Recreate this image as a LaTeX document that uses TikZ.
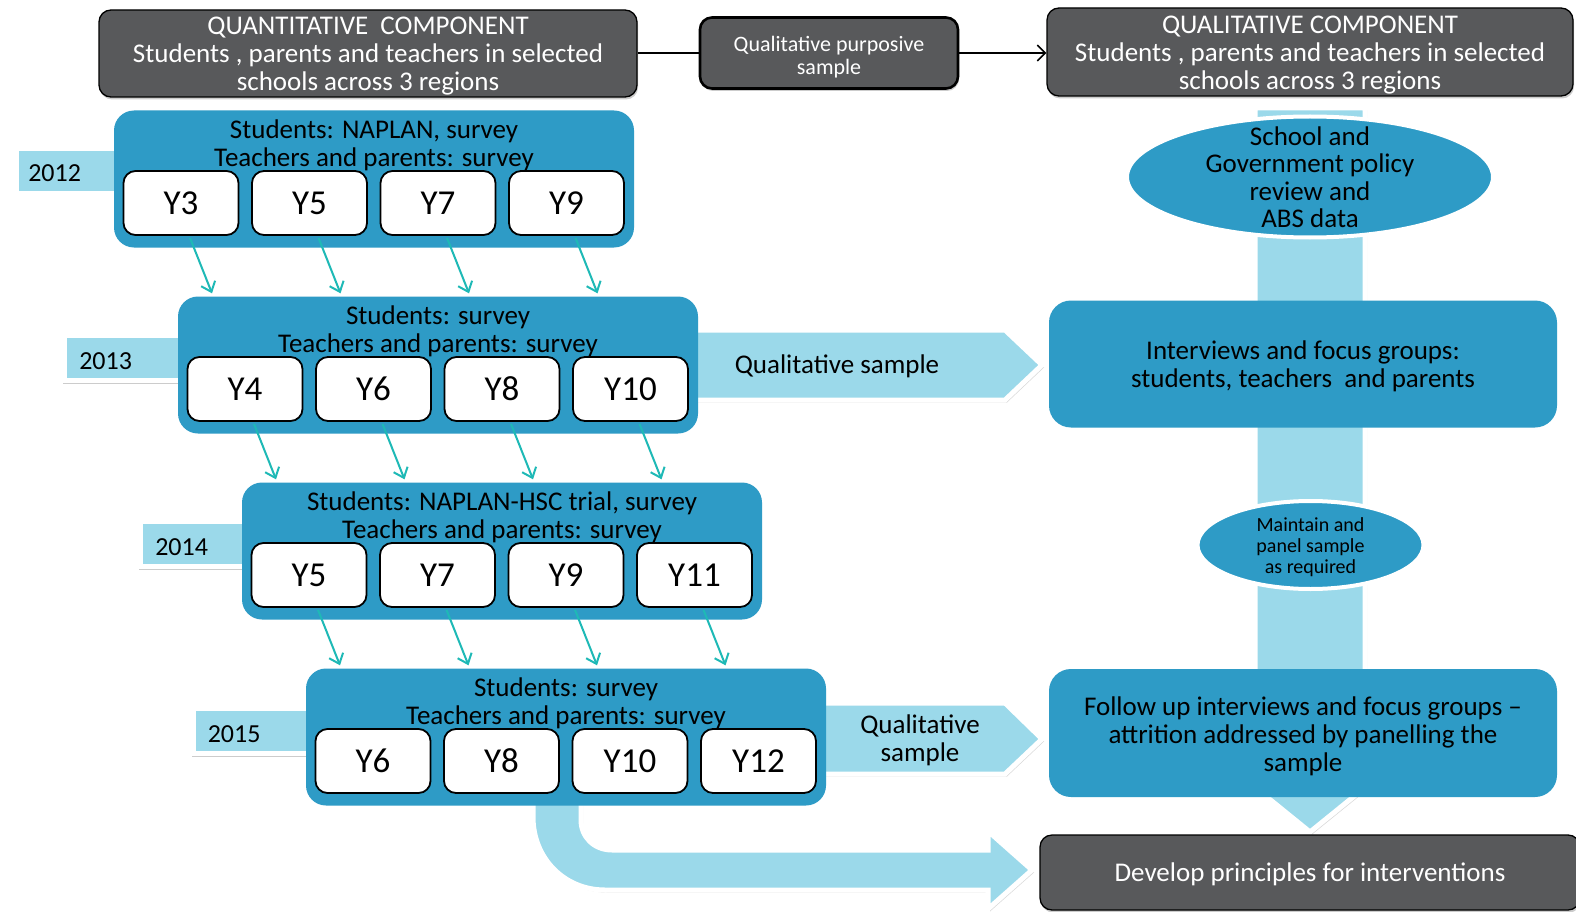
\documentclass[tikz,border=0pt]{standalone}
\usepackage{fontspec}
\setmainfont{Carlito}
\usetikzlibrary{arrows.meta,calc,shadows,shapes.geometric}
\definecolor{dgray}{RGB}{88,89,91}
\definecolor{mblue}{RGB}{46,155,198}
\definecolor{lblue}{RGB}{155,217,234}
\definecolor{tealc}{RGB}{30,185,182}
\begin{document}
\begin{tikzpicture}[x=1pt,y=-1pt,
  every node/.style={inner sep=0pt},
  hdr/.style={draw=black, line width=1.3pt, fill=dgray, rounded corners=12pt, drop shadow={opacity=0.4,shadow xshift=1pt,shadow yshift=-2.5pt}},
  hdrtxt/.style={text=white, align=center, font=\fontsize{27}{28}\selectfont},
  midbox/.style={hdr, line width=2.6pt},
  bluebox/.style={fill=mblue, rounded corners=20pt},
  ybox/.style={draw=black, line width=1.8pt, fill=white, rounded corners=12pt, minimum width=115pt, minimum height=64pt, font=\fontsize{35}{36}\selectfont},
  yrlbl/.style={fill=lblue, draw=white, line width=4.5pt, minimum height=45pt, text height=22pt, text depth=0pt, anchor=west, align=left, font=\fontsize{26}{28}\selectfont, drop shadow={opacity=0.4, shadow xshift=-1pt, shadow yshift=-3pt}},
  btxt/.style={align=center, font=\fontsize{27}{28}\selectfont},
  tarr/.style={draw=tealc, line width=2pt, -{Straight Barb[length=9pt,width=15pt]}},
  chev/.style={fill=lblue, draw=white, line width=5pt, line join=miter, drop shadow={opacity=0.3,shadow xshift=2pt,shadow yshift=-2.5pt}},
  ell/.style={ellipse, fill=mblue, draw=white, line width=4pt}
]
\useasboundingbox (0,0) rectangle (1576,912);
\fill[white] (0,0) rectangle (1576,912);

% vertical band on the right
\filldraw[chev] (1255,108) -- (1255,772) -- (1236,772) -- (1310,832) -- (1384,772) -- (1365,772) -- (1365,108) -- cycle;

% chevrons
\filldraw[chev] (690,330) -- (1005,330) -- (1042,365) -- (1005,400) -- (690,400) -- cycle;
\filldraw[chev] (820,703) -- (1005,703) -- (1042,739) -- (1005,774) -- (820,774) -- cycle;
% bent arrow
\filldraw[chev] (533,800) -- (533,817) .. controls (533,858) and (564,890) .. (605,890) -- (988,890) -- (988,909) -- (1032,870) -- (988,831) -- (988,850) -- (612,850) .. controls (594,850) and (581,837) .. (581,820) -- (581,800) -- cycle;

% year labels
\node[yrlbl, inner xsep=12pt, text width=86pt] (l0) at (14,171) {2012};
\node[yrlbl, inner xsep=15pt, text width=96pt] (l1) at (62,358) {2013};
\node[yrlbl, inner xsep=15pt, text width=84pt] (l2) at (138,544) {2014};
\node[yrlbl, inner xsep=14.5pt, text width=96pt] (l3) at (191,731) {2015};

% year blocks
\foreach \i/\cx/\cy/\a/\b/\c/\d in {0/374/179/Y3/Y5/Y7/Y9, 1/438/365/Y4/Y6/Y8/Y10, 2/502/551/Y5/Y7/Y9/Y11, 3/566/737/Y6/Y8/Y10/Y12}{
  \node[bluebox, minimum width=520pt, minimum height=137pt] (B\i) at (\cx,\cy) {};
  \node[ybox] (y\i0) at (\cx-193,\cy+24) {\a};
  \node[ybox] (y\i1) at (\cx-64.5,\cy+24) {\b};
  \node[ybox] (y\i2) at (\cx+64,\cy+24) {\c};
  \node[ybox] (y\i3) at (\cx+192.5,\cy+24) {\d};
}
\node[btxt] (t0) at (374,145) {Students: NAPLAN, survey\\Teachers and parents: survey};
\node[btxt] (t1) at (438,331) {Students: survey\\Teachers and parents: survey};
\node[btxt] (t2) at (502,517) {Students: NAPLAN-HSC trial, survey\\Teachers and parents: survey};
\node[btxt] (t3) at (566,703) {Students: survey\\Teachers and parents: survey};

% teal arrows
\foreach \i/\n in {0/1,1/2,2/3}{
  \foreach \j in {0,1,2,3}{
    \coordinate (e\i\j) at ($(y\i\j.south)+(31,0)$);
    \draw[tarr] ($(y\i\j.south)+(9,2)$) -- ($(e\i\j |- B\n.north)+(0,-3)$);
  }
}

% chevron texts
\node[btxt] (qs1) at (837,366) {Qualitative sample};
\node[btxt] (qs2) at (920,740) {Qualitative\\sample};

% right column
\node[ell, minimum width=366pt, minimum height=121pt] (pol) at (1310,177) {};
\node[btxt, font=\fontsize{27}{27.5}\selectfont] (polt) at (pol.center) {School and\\Government policy\\review and\\ABS data};
\node[bluebox, rounded corners=22pt, minimum width=508pt, minimum height=127pt] (intv) at (1303,364) {};
\node[btxt] (intvt) at (1303,366.5) {Interviews and focus groups:\\students, teachers~ and parents};
\node[ell, minimum width=226pt, minimum height=88pt] (maint) at (1310.5,545) {};
\node[align=center, font=\fontsize{20}{21}\selectfont] (maintt) at (1310.5,547) {Maintain and\\panel sample\\as required};
\node[bluebox, rounded corners=22pt, minimum width=508pt, minimum height=128pt] (follow) at (1303,733) {};
\node[btxt] (followt) at (1303,736) {Follow up interviews and focus groups --\\attrition addressed by panelling the\\sample};
\node[hdr, minimum width=540pt, minimum height=75pt] (dev) at (1310,872.5) {};
\node[hdrtxt] (devt) at (1310,874.5) {Develop principles for interventions};

% headers
\node[hdr, minimum width=538pt, minimum height=87pt] (quant) at (368,53.5) {};
\node[hdrtxt] (quantt) at (368,56.5) {QUANTITATIVE~ COMPONENT\\Students , parents and teachers in selected\\schools across 3 regions};
\node[midbox, minimum width=258pt, minimum height=71pt] (purp) at (829,53) {};
\node[hdrtxt, font=\fontsize{22}{22.5}\selectfont] (purpt) at (829,57) {Qualitative purposive\\sample};
\node[hdr, minimum width=526pt, minimum height=88pt] (qual) at (1310,52) {};
\node[hdrtxt] (qualt) at (1310,55) {QUALITATIVE COMPONENT\\Students , parents and teachers in selected\\schools across 3 regions};
\draw[line width=1.5pt] (quant.east |- purp.west) -- (purp.west);
\draw[line width=1.5pt, -{Straight Barb[length=8pt,width=16pt]}] (purp.east) -- (purp.east -| qual.west);
\end{tikzpicture}
\end{document}
